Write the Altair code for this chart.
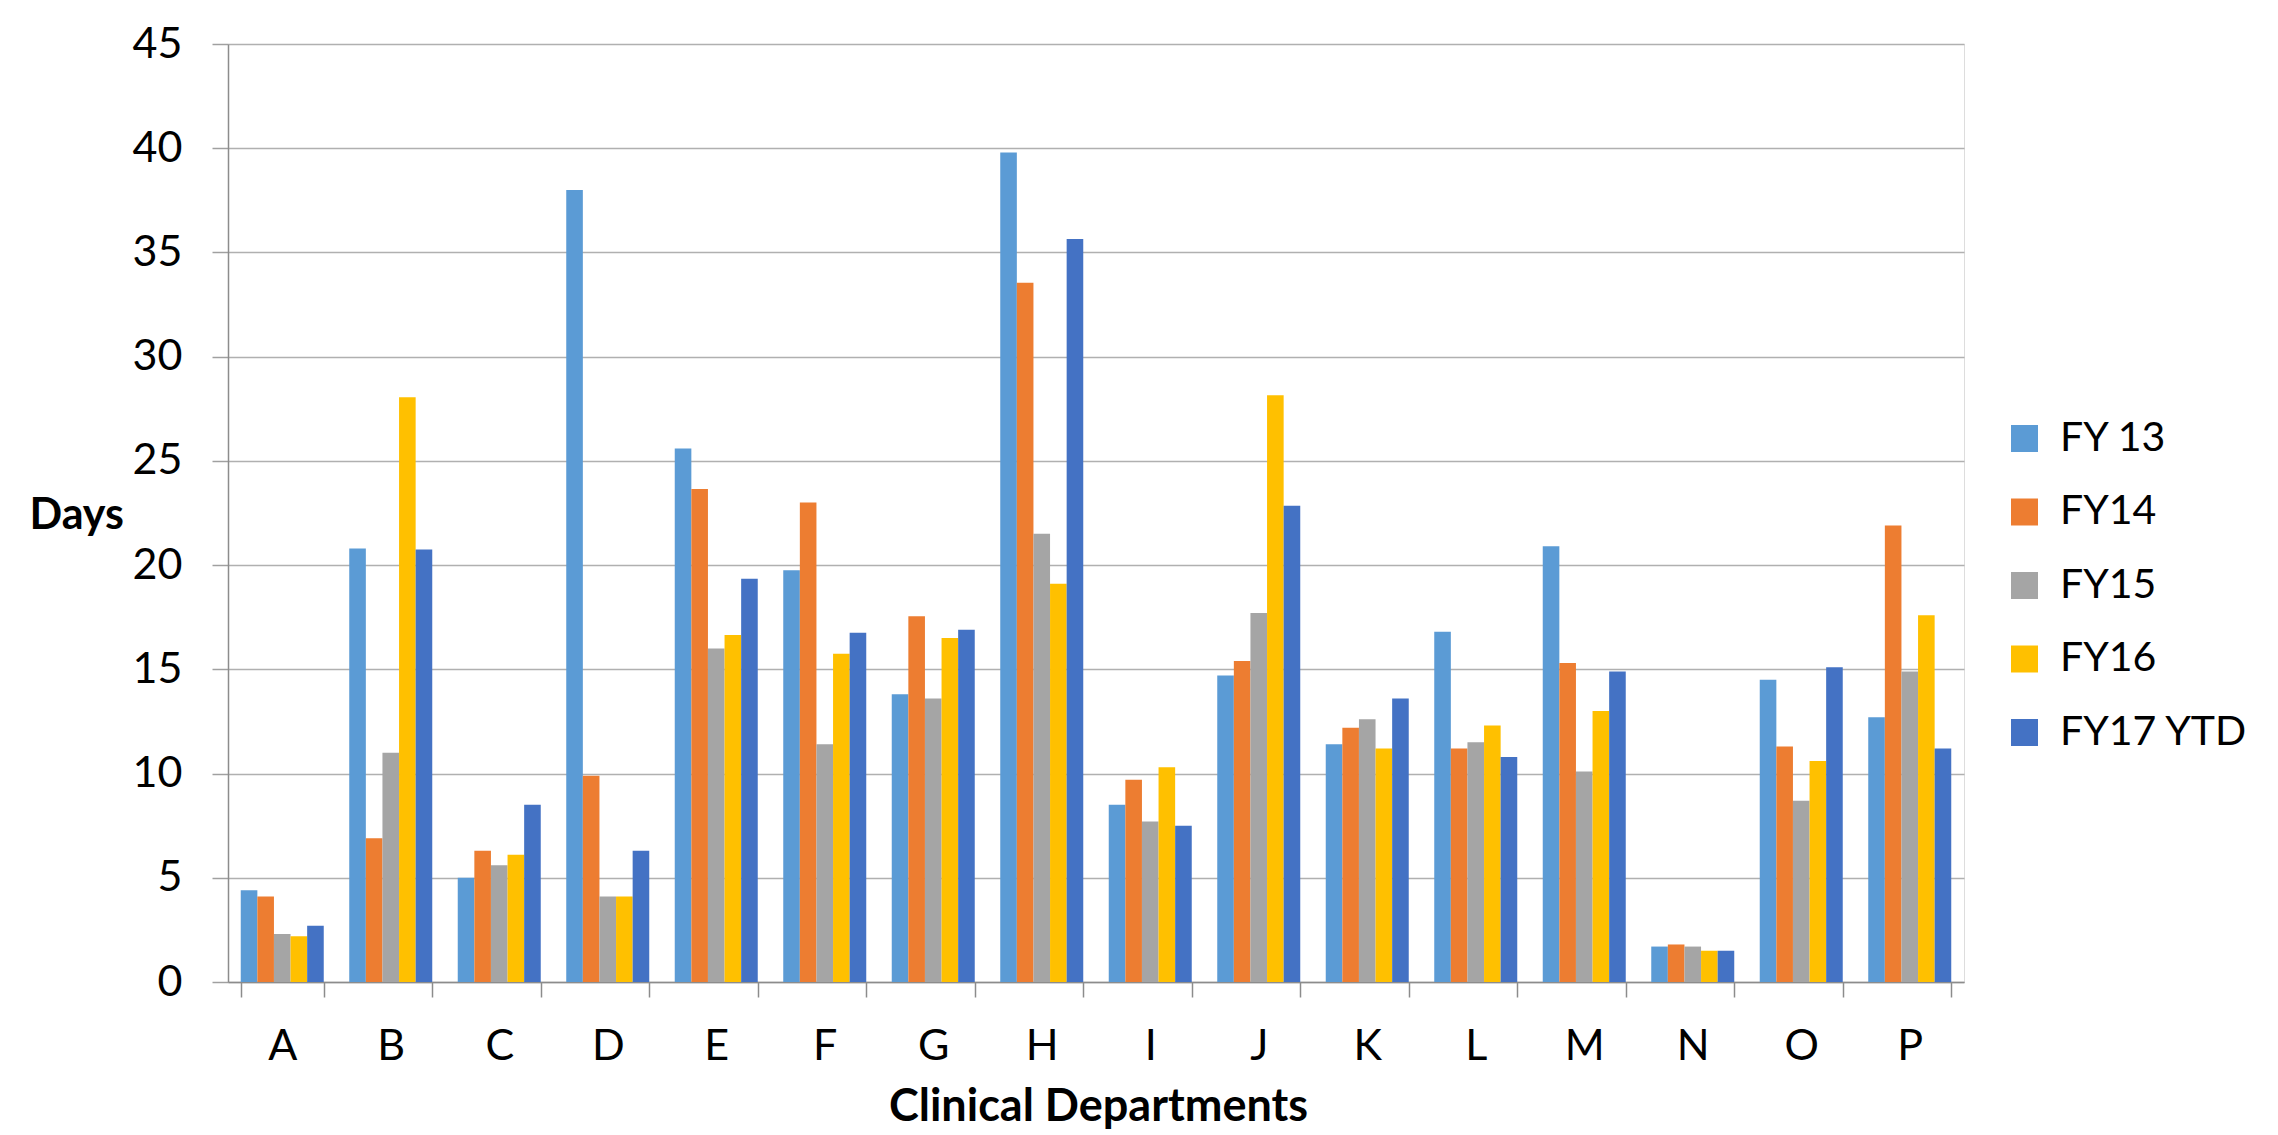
import altair as alt
import pandas as pd

departments = list("ABCDEFGHIJKLMNOP")
series = ["FY 13", "FY14", "FY15", "FY16", "FY17 YTD"]
colors = ["#5B9BD5", "#ED7D31", "#A5A5A5", "#FFC000", "#4472C4"]

fy13 = [4.4, 20.8, 5.0, 38.0, 25.6, 19.75, 13.8, 39.8, 8.5, 14.7, 11.4, 16.8, 20.9, 1.7, 14.5, 12.7]
fy14 = [4.1, 6.9, 6.3, 9.9, 23.65, 23.0, 17.55, 33.55, 9.7, 15.4, 12.2, 11.2, 15.3, 1.8, 11.3, 21.9]
fy15 = [2.3, 11.0, 5.6, 4.1, 16.0, 11.4, 13.6, 21.5, 7.7, 17.7, 12.6, 11.5, 10.1, 1.7, 8.7, 14.9]
fy16 = [2.2, 28.05, 6.1, 4.1, 16.65, 15.75, 16.5, 19.1, 10.3, 28.15, 11.2, 12.3, 13.0, 1.5, 10.6, 17.6]
fy17 = [2.7, 20.75, 8.5, 6.3, 19.35, 16.75, 16.9, 35.65, 7.5, 22.85, 13.6, 10.8, 14.9, 1.5, 15.1, 11.2]

rows = []
for s, vals in zip(series, [fy13, fy14, fy15, fy16, fy17]):
    for d, v in zip(departments, vals):
        rows.append({"Department": d, "Series": s, "Days": v})
df = pd.DataFrame(rows)

FONT = "Lato"

chart = alt.Chart(df).mark_bar().encode(
    x=alt.X("Department:N", sort=departments,
            scale=alt.Scale(paddingInner=0.235, paddingOuter=0.1175),
            axis=alt.Axis(title="Clinical Departments", labelAngle=0, tickBand="extent",
                          tickSize=15, tickColor="#8c8c8c", domainColor="#8c8c8c",
                          domainWidth=1.5, tickWidth=1.5,
                          labelFont=FONT, labelFontSize=43, labelColor="black",
                          labelPadding=28,
                          titleFont=FONT, titleFontSize=45, titleFontWeight="bold",
                          titleColor="black", titleX=870, titleY=138,
                          titleBaseline="alphabetic", titleAlign="center")),
    xOffset=alt.XOffset("Series:N", sort=series, scale=alt.Scale(paddingInner=0, paddingOuter=0)),
    y=alt.Y("Days:Q", scale=alt.Scale(domain=[0, 45], nice=False),
            axis=alt.Axis(values=list(range(0, 46, 5)), tickSize=16, tickColor="#a0a0a0",
                          tickWidth=1.5, domainColor="#8c8c8c", domainWidth=1.5,
                          gridColor="#b0b0b0", gridWidth=1.5,
                          labelFont=FONT, labelFontSize=43, labelColor="black",
                          labelPadding=30,
                          title="Days", titleFont=FONT, titleFontSize=43,
                          titleFontWeight="bold", titleColor="black", titleAngle=0,
                          titleAlign="left", titleBaseline="middle",
                          titleX=-199, titleY=471)),
    color=alt.Color("Series:N", sort=series,
                    scale=alt.Scale(domain=series, range=colors),
                    legend=alt.Legend(title=None, orient="none", legendX=1776, legendY=374,
                                      symbolType="square", symbolSize=729,
                                      symbolStrokeWidth=0, padding=0,
                                      labelFont=FONT, labelFontSize=41, labelColor="black",
                                      labelLimit=0, labelOffset=15, rowPadding=31.5)),
).properties(
    width=1736, height=938,
    autosize=alt.AutoSizeParams(type="none"),
    padding={"left": 220, "top": 36, "right": 300, "bottom": 152},
).configure_view(stroke=None).configure(background="white")

chart.save("out.html", embed_options={"renderer": "svg", "actions": False})
